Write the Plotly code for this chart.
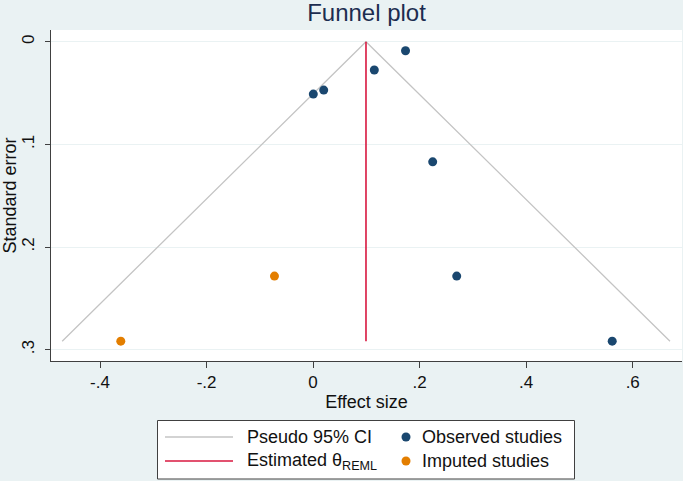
import plotly.graph_objects as go

# ---- data ----
obs_effect = [0.1735, 0.1149, 0.0199, 0.0004, 0.2245, 0.2696, 0.5615]
obs_se = [0.0088, 0.0276, 0.0471, 0.0510, 0.1170, 0.2283, 0.2917]
imp_effect = [-0.0725, -0.3610]
imp_se = [0.2283, 0.2917]
ci_effect = [-0.471, 0.0993, 0.670]
ci_se = [0.2917, 0.0, 0.2917]
theta_effect = [0.0993, 0.0993]
theta_se = [0.0, 0.2917]
x_ticks = [-0.4, -0.2, 0.0, 0.2, 0.4, 0.6]
x_labels = ["-.4", "-.2", "0", ".2", ".4", ".6"]
y_ticks = [0.0, 0.1, 0.2, 0.3]
y_labels = ["0", ".1", ".2", ".3"]

NAVY = "#1a476f"
ORANGE = "#e37e00"
RED = "#d8173f"
GRAY = "#c4c4c4"
BG = "#eaf2f3"
FONT = "Liberation Sans, Arial, sans-serif"

W, H = 683, 481
ML, MR, MT, MB = 51, 1, 30, 120
PW, PH = W - ML - MR, H - MT - MB

def px2x(px):
    return (px - ML) / PW

def px2y(py):
    return (H - MB - py) / PH

fig = go.Figure()
fig.add_trace(go.Scatter(x=ci_effect, y=ci_se, mode="lines",
                         line=dict(color=GRAY, width=1.3), showlegend=False))
fig.add_trace(go.Scatter(x=theta_effect, y=theta_se, mode="lines",
                         line=dict(color=RED, width=1.6), showlegend=False))
fig.add_trace(go.Scatter(x=obs_effect, y=obs_se, mode="markers",
                         marker=dict(color=NAVY, size=9), showlegend=False))
fig.add_trace(go.Scatter(x=imp_effect, y=imp_se, mode="markers",
                         marker=dict(color=ORANGE, size=9), showlegend=False))

shapes = []
annotations = []
# legend box
shapes.append(dict(type="rect", xref="paper", yref="paper",
                   x0=px2x(157.5), x1=px2x(574.5), y0=px2y(479), y1=px2y(420.5),
                   line=dict(color="#404040", width=1), fillcolor="white", layer="above"))
rows = [437, 461]
line_cols = [GRAY, RED]
line_txt = ["Pseudo 95% CI", "Estimated θ<sub>REML</sub>"]
mk_cols = [NAVY, ORANGE]
mk_txt = ["Observed studies", "Imputed studies"]
for r, lc, lt, mc, mt in zip(rows, line_cols, line_txt, mk_cols, mk_txt):
    shapes.append(dict(type="line", xref="paper", yref="paper",
                       x0=px2x(165), x1=px2x(233), y0=px2y(r), y1=px2y(r),
                       line=dict(color=lc, width=1.6 if lc == RED else 1.3), layer="above"))
    annotations.append(dict(text=lt, xref="paper", yref="paper", x=px2x(245), y=px2y(r),
                            xanchor="left", yanchor="middle", showarrow=False,
                            font=dict(size=18, color="#111111", family=FONT)))
    shapes.append(dict(type="circle", xref="paper", yref="paper",
                       xsizemode="pixel", ysizemode="pixel",
                       xanchor=px2x(406), yanchor=px2y(r),
                       x0=-4.5, x1=4.5, y0=-4.5, y1=4.5,
                       line=dict(width=0), fillcolor=mc, layer="above"))
    annotations.append(dict(text=mt, xref="paper", yref="paper", x=px2x(420), y=px2y(r),
                            xanchor="left", yanchor="middle", showarrow=False,
                            font=dict(size=18, color="#111111", family=FONT)))

fig.update_layout(
    width=W, height=H,
    margin=dict(l=ML, r=MR, t=MT, b=MB),
    paper_bgcolor=BG, plot_bgcolor="white",
    font=dict(family=FONT, color="#111111"),
    title=dict(text="Funnel plot", x=0.5, xref="paper", y=1 - 13 / H, yref="container",
               xanchor="center", yanchor="middle",
               font=dict(size=24, color="#1c2d50", family=FONT)),
    shapes=shapes, annotations=annotations,
    xaxis=dict(range=[-0.492, 0.6925], tickvals=x_ticks, ticktext=x_labels,
               showgrid=False, zeroline=False, showline=True, linecolor="#404040",
               linewidth=1, ticks="outside", ticklen=6, tickcolor="#404040",
               automargin=False,
               tickfont=dict(size=17), title=dict(text="Effect size", font=dict(size=18), standoff=3)),
    yaxis=dict(range=[0.311, -0.0114], tickvals=y_ticks, ticktext=y_labels,
               showgrid=True, gridcolor=BG, gridwidth=1, zeroline=False,
               showline=True, linecolor="#404040", linewidth=1, ticks="outside",
               automargin=False, ticklabelstandoff=4,
               ticklen=5, tickcolor="#404040", tickangle=-90, tickfont=dict(size=17),
               title=dict(text="Standard error", font=dict(size=18), standoff=2)),
)

fig.write_html("out.html", config={"displayModeBar": False},
               post_script="document.body.style.margin='0';document.body.style.padding='0';")
